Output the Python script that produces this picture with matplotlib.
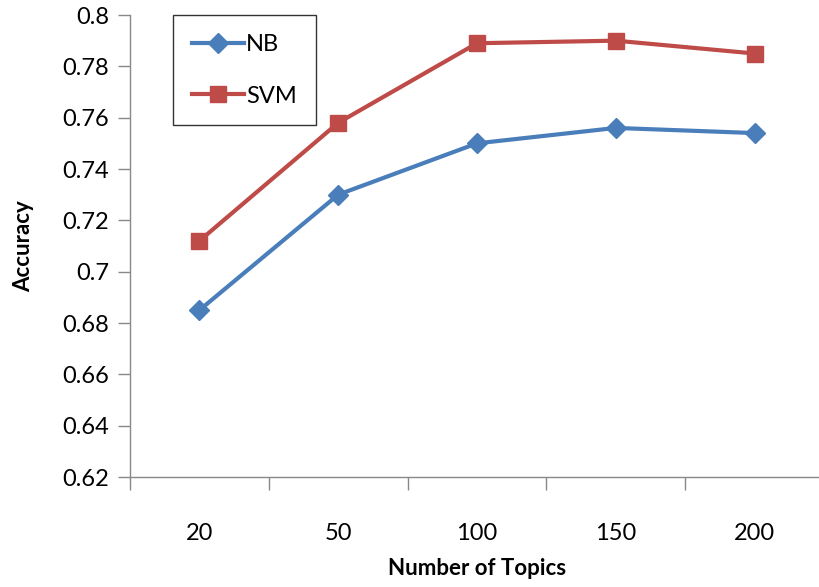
import numpy as np
import matplotlib.pyplot as plt
import matplotlib as mpl

topics = ["20", "50", "100", "150", "200"]
nb_acc = [0.685, 0.730, 0.750, 0.756, 0.754]
svm_acc = [0.712, 0.758, 0.789, 0.790, 0.785]
yticks = [0.62, 0.64, 0.66, 0.68, 0.70, 0.72, 0.74, 0.76, 0.78, 0.80]
ylabels = ["0.62", "0.64", "0.66", "0.68", "0.7", "0.72", "0.74", "0.76", "0.78", "0.8"]

mpl.rcParams["font.family"] = ["Lato", "DejaVu Sans"]

fig = plt.figure(figsize=(8.19, 5.87), dpi=100)
ax = fig.add_axes([130/819, 110/587, 694/819, 462/587])

x = np.arange(len(topics))
ax.plot(x, nb_acc, color="#4A7EBB", lw=3, marker="D", ms=10, label="NB")
ax.plot(x, svm_acc, color="#BE4B48", lw=3, marker="s", ms=12, label="SVM")

ax.set_xlim(-0.5, len(topics) - 0.5)
ax.set_ylim(0.62, 0.80)
ax.set_yticks(yticks)
ax.set_yticklabels(ylabels)
ax.set_xticks(x)
ax.set_xticklabels(topics)
ax.set_xticks(np.arange(-0.5, len(topics)), minor=True)
ax.tick_params(axis="x", which="major", length=0, pad=33, labelsize=17)
ax.tick_params(axis="x", which="minor", length=9, width=1, color="#888888")
ax.tick_params(axis="y", length=9, width=1, color="#888888", labelsize=17, pad=6)

for s in ["top", "right"]:
    ax.spines[s].set_visible(False)
for s in ["left", "bottom"]:
    ax.spines[s].set_color("#888888")
    ax.spines[s].set_linewidth(1)

ax.set_xlabel("Number of Topics", fontsize=16, fontweight="bold")
ax.xaxis.set_label_coords(347/694, -0.175)
ax.set_ylabel("Accuracy", fontsize=16, fontweight="bold", labelpad=20)

leg = ax.legend(loc="upper left", bbox_to_anchor=(43/694, 1.0), fontsize=17,
                frameon=True, fancybox=False, handlelength=2.2, handletextpad=0.1,
                labelspacing=1.3, borderpad=0.8, borderaxespad=0)
leg.get_frame().set_edgecolor("black")
leg.get_frame().set_linewidth(1)

fig.savefig("out.png", dpi=100)
